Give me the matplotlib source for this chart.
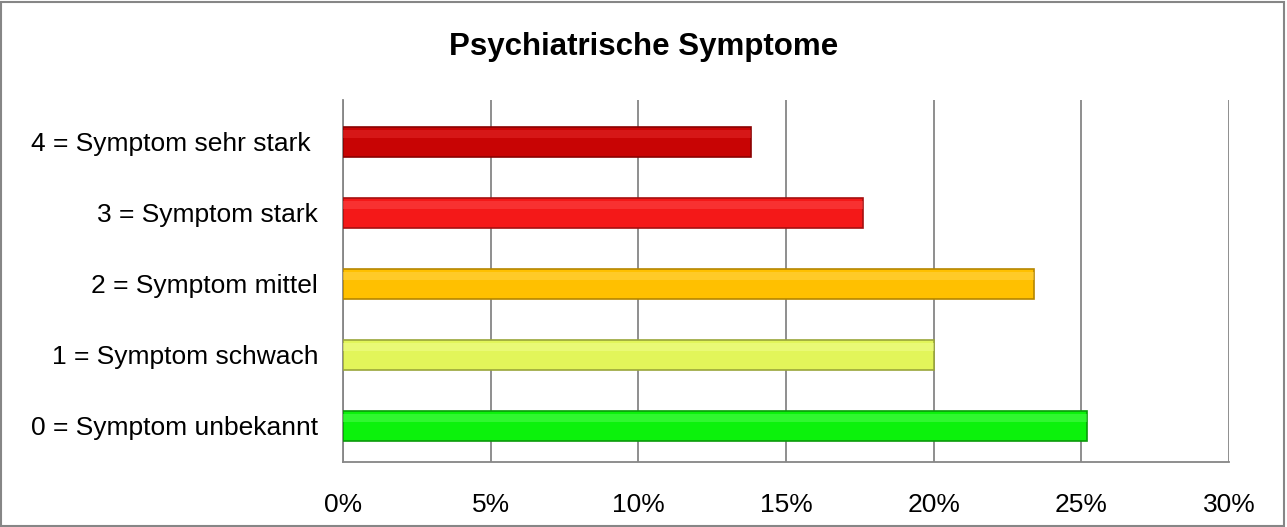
import matplotlib.pyplot as plt
from matplotlib.patches import Rectangle
from matplotlib.ticker import FuncFormatter

plt.rcParams['font.family'] = ['Liberation Sans', 'DejaVu Sans']

categories = ['0 = Symptom unbekannt', '1 = Symptom schwach', '2 = Symptom mittel',
              '3 = Symptom stark', '4 = Symptom sehr stark ']
values = [25.2, 20.0, 23.4, 17.6, 13.8]
face_colors = ['#0CF20C', '#E2F55A', '#FFC000', '#F41818', '#C80404']
edge_colors = ['#0A9A0A', '#9AA63A', '#B58600', '#A51010', '#8A0202']
light_colors = ['#5CFF5C', '#F2FF9A', '#FFD85A', '#FF5050', '#E83030']
xticks = [0, 5, 10, 15, 20, 25, 30]

fig = plt.figure(figsize=(12.87, 5.27), dpi=100)
ax = fig.add_axes([343 / 1287, 1 - 462 / 527, (1229 - 343) / 1287, (462 - 100) / 527])

ypos = list(range(len(categories)))
ax.barh(ypos, values, height=0.42, color=face_colors, edgecolor=edge_colors,
        linewidth=1.2, zorder=3)
# lighter top strip to mimic the bevel look
ax.barh([y + 0.11 for y in ypos], values, height=0.12, color=light_colors,
        linewidth=0, alpha=0.45, zorder=4)

ax.set_xlim(0, 30)
ax.set_ylim(-0.507, 4.59)
ax.set_xticks(xticks)
ax.xaxis.set_major_formatter(FuncFormatter(lambda v, p: f'{int(v)}%'))
ax.set_yticks(ypos)
ax.set_yticklabels(categories)
ax.tick_params(axis='both', length=0, labelsize=19, colors='black')
ax.tick_params(axis='y', pad=18)
ax.tick_params(axis='x', pad=22)
ax.grid(axis='x', color='#868686', linewidth=1.3, zorder=0)
ax.set_axisbelow(True)
for s in ['top', 'right']:
    ax.spines[s].set_visible(False)
for s in ['left', 'bottom']:
    ax.spines[s].set_color('#868686')
    ax.spines[s].set_linewidth(1.3)

fig.text(0.5, 1 - 47 / 527, 'Psychiatrische Symptome', ha='center', va='center',
         fontsize=22.5, fontweight='bold')

fig.patches.append(Rectangle((0.001, 0.002), 0.997, 0.995, transform=fig.transFigure,
                             fill=False, edgecolor='#868686', linewidth=1.5))

fig.savefig('out.png', dpi=100)
